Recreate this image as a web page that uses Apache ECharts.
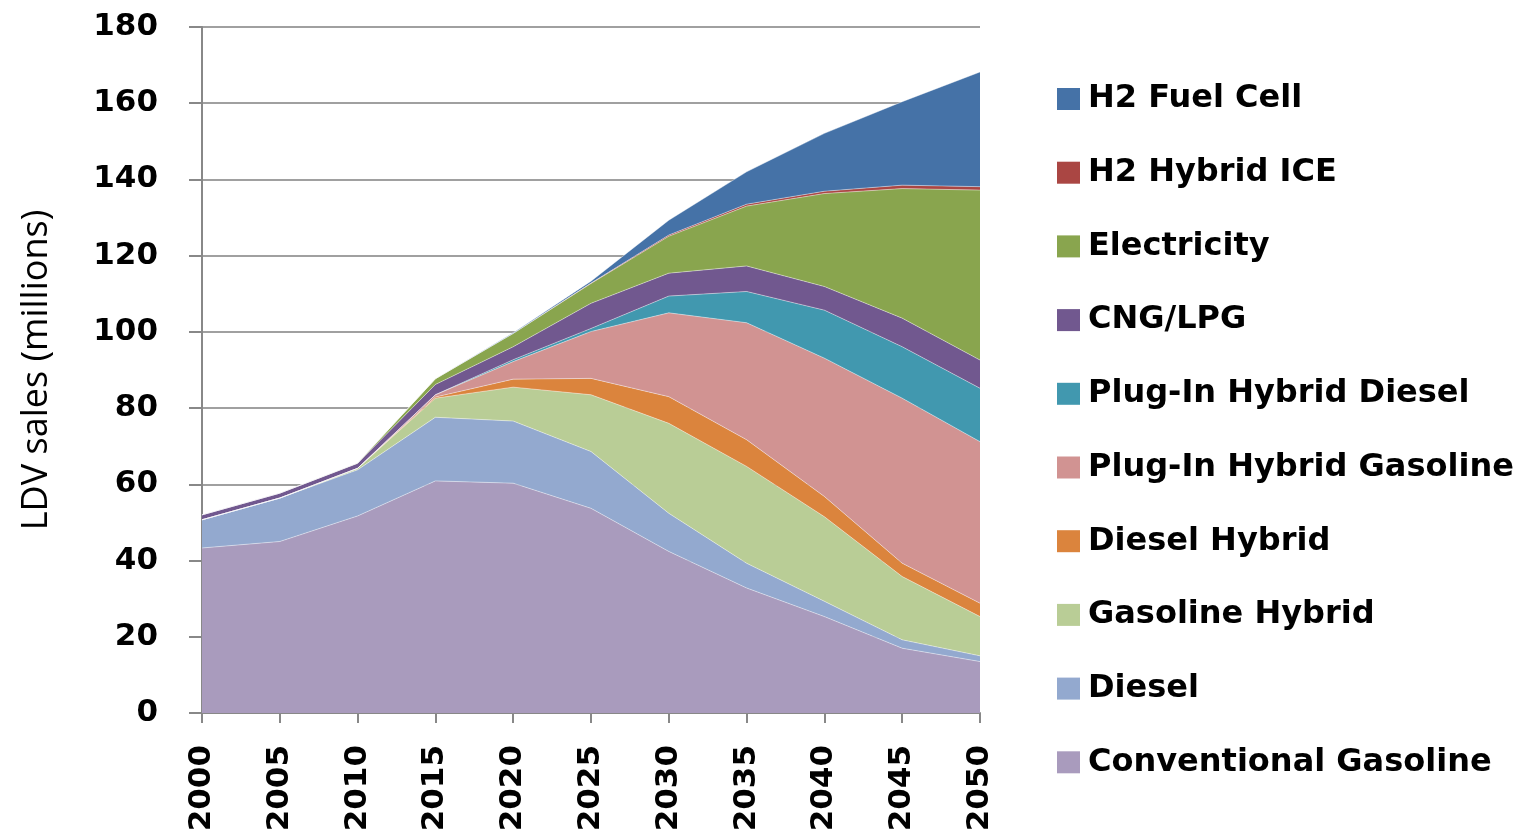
<!DOCTYPE html>
<html>
<head>
<meta charset="utf-8">
<script src="https://cdn.jsdelivr.net/npm/echarts@6/dist/echarts.min.js"></script>
<style>
html,body{margin:0;padding:0;background:#fff;}
#chart{width:1523px;height:835px;}
</style>
</head>
<body>
<div id="chart"></div>
<script>
var years = ['2000','2005','2010','2015','2020','2025','2030','2035','2040','2045','2050'];
var yTicks = [0,20,40,60,80,100,120,140,160,180];

var conventionalGasoline = [43.3, 45.0, 51.7, 60.9, 60.3, 53.7, 42.4, 32.8, 25.3, 17.0, 13.5];
var diesel               = [7.4, 11.4, 12.1, 16.7, 16.3, 14.9, 10.0, 6.5, 4.0, 2.2, 1.5];
var gasolineHybrid       = [0, 0, 0.4, 5.0, 8.9, 14.9, 23.6, 25.4, 22.2, 16.6, 10.3];
var dieselHybrid         = [0, 0, 0, 0.3, 2.1, 4.3, 7.0, 7.0, 5.3, 3.5, 3.5];
var phevGasoline         = [0, 0, 0, 0.6, 4.6, 12.3, 22.0, 30.7, 36.3, 43.3, 42.4];
var phevDiesel           = [0, 0, 0, 0, 0.5, 0.8, 4.4, 8.2, 12.6, 13.5, 14.0];
var cngLpg               = [1.3, 1.3, 1.3, 2.7, 3.4, 6.6, 6.0, 6.7, 6.2, 7.5, 7.4];
var electricity          = [0, 0, 0.1, 1.5, 3.5, 5.2, 9.7, 15.7, 24.4, 34.0, 44.6];
var h2HybridIce          = [0, 0, 0, 0, 0, 0.1, 0.3, 0.5, 0.6, 0.9, 0.9];
var h2FuelCell           = [0, 0, 0, 0, 0.2, 0.5, 3.9, 8.5, 15.2, 21.9, 30.1];

var seriesNames = ['Conventional Gasoline','Diesel','Gasoline Hybrid','Diesel Hybrid','Plug-In Hybrid Gasoline','Plug-In Hybrid Diesel','CNG/LPG','Electricity','H2 Hybrid ICE','H2 Fuel Cell'];
var seriesData = [conventionalGasoline, diesel, gasolineHybrid, dieselHybrid, phevGasoline, phevDiesel, cngLpg, electricity, h2HybridIce, h2FuelCell];
var colors = ['#A99BBD','#93A9CF','#B9CD96','#DB843D','#D19392','#4198AF','#71588F','#89A54E','#AA4643','#4572A7'];

var chart = echarts.init(document.getElementById('chart'), null, {renderer:'canvas'});
var series = seriesNames.map(function(n, i){
  return {
    name: n,
    type: 'line',
    stack: 'total',
    data: seriesData[i],
    symbol: 'none',
    smooth: false,
    lineStyle: {width: 0.6, color: 'rgba(255,255,255,0.7)'},
    areaStyle: {color: colors[i], opacity: 1},
    itemStyle: {color: colors[i]},
    emphasis: {disabled: true},
    z: 2
  };
});

chart.setOption({
  animation: false,
  backgroundColor: '#ffffff',
  grid: {left: 202, right: 543, top: 27, bottom: 122, containLabel: false, outerBoundsMode: 'none'},
  legend: {
    orient: 'vertical',
    left: 1052,
    top: 78,
    itemWidth: 23,
    itemHeight: 22,
    itemGap: 41.7,
    icon: 'rect',
    data: seriesNames.slice().reverse(),
    textStyle: {fontFamily: 'DejaVu Sans', fontWeight: 'bold', fontSize: 32, color: '#000', lineHeight: 32, padding: [0,0,0,3]}
  },
  xAxis: {
    type: 'category',
    data: years,
    boundaryGap: false,
    axisLine: {lineStyle: {color: '#888888', width: 2}},
    axisTick: {show: true, length: 10, lineStyle: {color: '#888888', width: 2}, alignWithLabel: true},
    axisLabel: {rotate: 90, margin: 32, fontFamily: 'DejaVu Sans', fontWeight: 'bold', fontSize: 31, color: '#000'},
    splitLine: {show: false}
  },
  yAxis: {
    type: 'value',
    min: 0, max: 180, interval: 20,
    name: 'LDV sales (millions)',
    nameLocation: 'middle',
    nameGap: 147,
    nameTextStyle: {fontFamily: 'Open Sans', fontSize: 36, color: '#000'},
    axisLine: {show: true, lineStyle: {color: '#888888', width: 2}},
    axisTick: {show: true, length: 13, lineStyle: {color: '#888888', width: 2}},
    axisLabel: {margin: 44, fontFamily: 'DejaVu Sans', fontWeight: 'bold', fontSize: 31, color: '#000'},
    splitLine: {show: true, lineStyle: {color: '#A0A0A0', width: 2}}
  },
  series: series
});
</script>
</body>
</html>
